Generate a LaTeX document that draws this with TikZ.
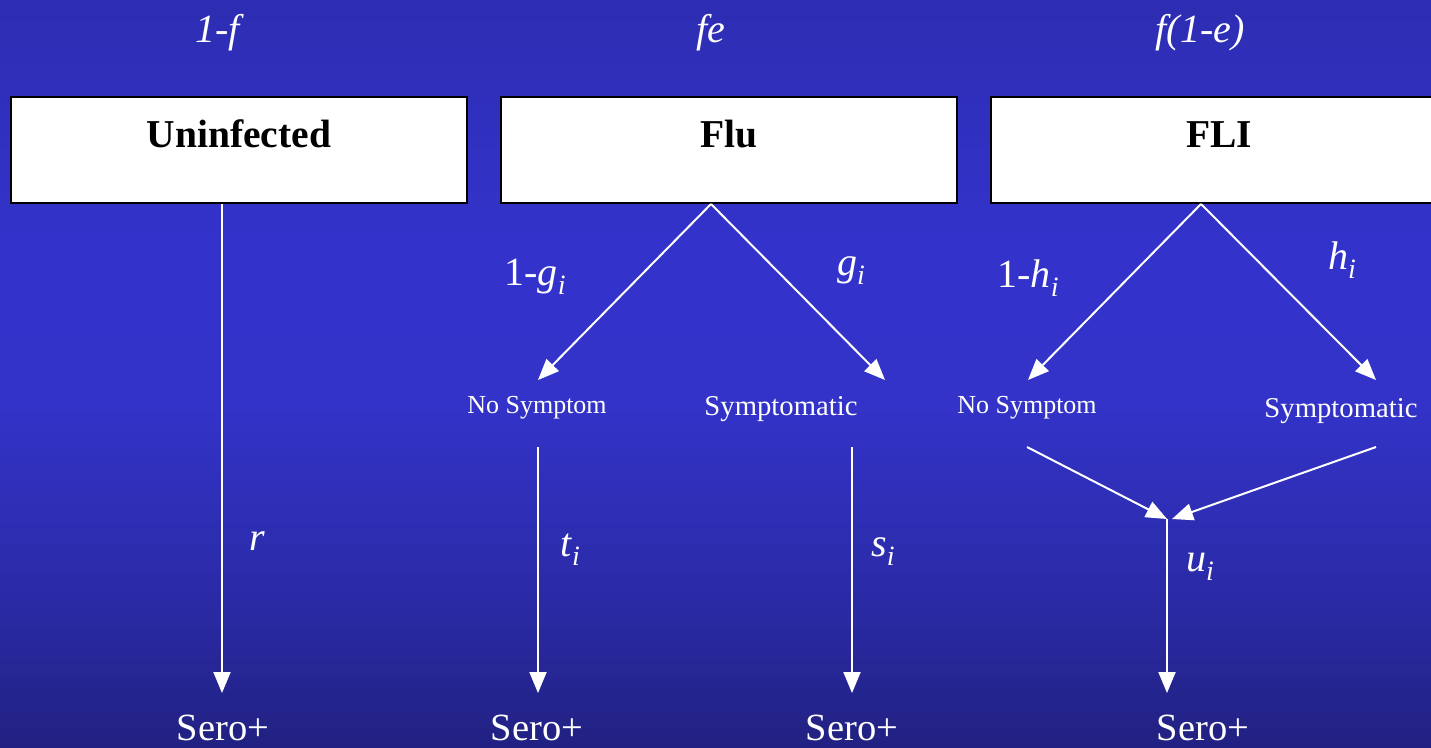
\documentclass[tikz,border=0pt]{standalone}
\usepackage{fontspec}
\setmainfont{Liberation Serif}
\usetikzlibrary{arrows.meta}
\pgfdeclareverticalshading{bgshade}{100bp}{%
  rgb(0bp)=(0.13,0.13,0.51);
  rgb(25bp)=(0.13,0.13,0.51);
  rgb(34.8bp)=(0.165,0.165,0.65);
  rgb(48.2bp)=(0.20,0.20,0.79);
  rgb(58.3bp)=(0.20,0.20,0.80);
  rgb(75bp)=(0.176,0.176,0.70);
  rgb(100bp)=(0.176,0.176,0.70)}
\newcommand\sbi[1]{\raisebox{-9pt}{\fontsize{28}{28}\selectfont\textit{#1}}}
\begin{document}
\begin{tikzpicture}[x=1pt,y=-1pt,
  boxnode/.style={draw=black,line width=2pt,fill=white,minimum width=456pt,minimum height=106pt,inner sep=0pt,
    text height=30pt,text depth=36pt,font=\fontsize{39.5}{39.5}\selectfont\bfseries,anchor=center},
  biglab/.style={text=white,font=\fontsize{40}{40}\selectfont,anchor=base,inner sep=0pt},
  sero/.style={text=white,font=\fontsize{38.5}{38.5}\selectfont,anchor=base,inner sep=0pt},
  smallA/.style={text=white,font=\fontsize{26}{26}\selectfont,anchor=base,inner sep=0pt},
  smallB/.style={text=white,font=\fontsize{28.7}{28.7}\selectfont,anchor=base,inner sep=0pt},
  arr/.style={draw=white,line width=2pt,-{Triangle[length=21pt,width=17pt]}},
  plain/.style={draw=white,line width=2pt}]
\useasboundingbox (0,0) rectangle (1431,747);
\fill[shading=bgshade,shading angle=0] (0,0) rectangle (1431,747);
% top labels
\node[biglab] (pf) at (220,42) {\textit{1-f}};
\node[biglab] (pfe) at (711,42) {\textit{fe}};
\node[biglab] (pfne) at (1200,42) {\textit{f(1-e)}};
% boxes
\node[boxnode] (U) at (239,150) {Uninfected};
\node[boxnode] (F) at (729,150) {Flu};
\node[boxnode] (L) at (1219,150) {FLI};
% intermediate nodes
\node[smallA] (ns1) at (537,413) {No Symptom};
\node[smallB] (sy1) at (781,415) {Symptomatic};
\node[smallA] (ns2) at (1027,413) {No Symptom};
\node[smallB] (sy2) at (1341,417) {Symptomatic};
% Sero+
\node[sero] (s1) at (223,740) {Sero+};
\node[sero] (s2) at (537,740) {Sero+};
\node[sero] (s3) at (852,740) {Sero+};
\node[sero] (s4) at (1203,740) {Sero+};
% coordinates
\coordinate (fu) at (222,203);
\coordinate (ff) at (711,203);
\coordinate (fl) at (1201,203);
\coordinate (e1) at (222,693);
\coordinate (t1) at (538,380);
\coordinate (t2) at (885,380);
\coordinate (t3) at (1028,380);
\coordinate (t4) at (1376,380);
\coordinate (b1) at (538,447);
\coordinate (b2) at (852,447);
\coordinate (b3) at (1027,447);
\coordinate (b4) at (1376,447);
\coordinate (e2) at (538,693);
\coordinate (e3) at (852,693);
\coordinate (m) at (1167,519);
\coordinate (m2) at (1172,519);
\coordinate (e4) at (1167,693);
% connectors
\draw[arr] (U.south -| fu) -- (e1);
\draw[arr] (F.south -| ff) -- (t1);
\draw[arr] (F.south -| ff) -- (t2);
\draw[arr] (L.south -| fl) -- (t3);
\draw[arr] (L.south -| fl) -- (t4);
\draw[arr] (b1) -- (e2);
\draw[arr] (b2) -- (e3);
\draw[arr] (b3) -- (m);
\draw[arr] (b4) -- (m2);
\draw[plain] (m) -- (1167,640) coordinate (mm);
\draw[arr] (mm) -- (e4);
% labels
\node[biglab] (lr) at (257,550) {\textit{r}};
\node[biglab] (lt) at (570,556) {\textit{t}\sbi{i}};
\node[biglab] (ls) at (883,556) {\textit{s}\sbi{i}};
\node[biglab] (lu) at (1200,571) {\textit{u}\sbi{i}};
\node[biglab] (lg1) at (535,285) {1-\textit{g}\sbi{i}};
\node[biglab] (lg) at (851,275) {\textit{g}\sbi{i}};
\node[biglab] (lh1) at (1028,287) {1-\textit{h}\sbi{i}};
\node[biglab] (lh) at (1342,269) {\textit{h}\sbi{i}};
\end{tikzpicture}
\end{document}
